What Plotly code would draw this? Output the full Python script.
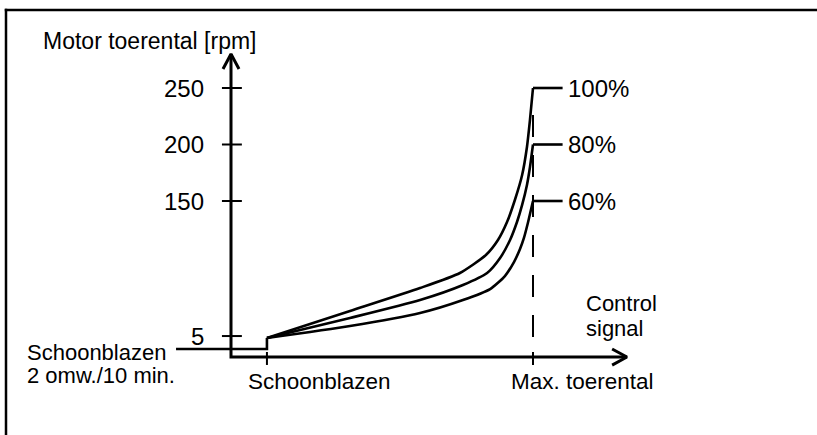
import plotly.graph_objects as go

# ---- data (schematic units: x = control signal %, y = motor speed rpm) ----
series_names = ["100%", "80%", "60%"]
end_rpm = [250, 200, 150]

curve_x_100 = [11.9, 39.4, 62.6, 75.8, 84.4, 88.4, 91.4, 94.0, 96.4, 98.0, 99.0, 100.0]
curve_y_100 = [28.8, 52.7, 73.0, 86.3, 102.2, 115.5, 131.4, 150.9, 173.0, 197.8, 221.7, 250.0]

curve_x_80 = [11.9, 39.4, 62.6, 76.8, 84.8, 89.1, 92.4, 94.7, 96.4, 98.0, 99.0, 100.0]
curve_y_80 = [28.8, 46.5, 62.4, 75.7, 86.3, 99.6, 115.5, 131.4, 146.5, 164.2, 180.1, 200.0]

curve_x_60 = [11.9, 39.4, 62.6, 76.8, 85.8, 90.7, 93.7, 95.7, 97.0, 98.3, 99.3, 100.0]
curve_y_60 = [28.8, 39.4, 50.9, 62.4, 72.1, 83.6, 96.0, 107.5, 117.3, 130.5, 142.0, 150.0]

purge_x = [-18.2, 11.9, 11.9]     # Schoonblazen level then step up
purge_y = [19.0, 19.0, 28.8]

ytick_vals = [30.5, 150, 200, 250]
ytick_text = ["5", "150", "200", "250"]
xtick_vals = [11.9, 100.0]
xtick_text = ["Schoonblazen", "Max. toerental"]

# ---- axis geometry (schematic) ----
X_AXIS_Y = 11.9
Y_AXIS_TOP = 280.1
X_AXIS_END = 131.1
FONT = "Liberation Sans, Arial, sans-serif"

fig = go.Figure()
line = dict(color="black", width=2.6)

def add_line(xs, ys, **kw):
    ln = dict(line)
    ln.update(kw)
    fig.add_trace(go.Scatter(x=xs, y=ys, mode="lines", line=ln,
                             hoverinfo="skip", showlegend=False))

# axes
add_line([0, 0, X_AXIS_END], [Y_AXIS_TOP, X_AXIS_Y, X_AXIS_Y], width=3)
# arrow heads
add_line([-2.65, 0, 2.65], [266.8, Y_AXIS_TOP, 266.8], width=3)
add_line([126.2, X_AXIS_END, 126.2], [X_AXIS_Y + 7.1, X_AXIS_Y, X_AXIS_Y - 7.1], width=3)

# y ticks
for v in ytick_vals:
    add_line([-3.0, 3.6], [v, v], width=2)
# x ticks
for v in xtick_vals:
    add_line([v, v], [16.4, 4.9], width=2)

# dashed max line
add_line([100, 100], [226.1, 29.6], width=2, dash="22px,18px")

# purge segment
add_line(purge_x, purge_y, width=2.6)

# curves
for xs, ys in [(curve_x_100, curve_y_100), (curve_x_80, curve_y_80), (curve_x_60, curve_y_60)]:
    fig.add_trace(go.Scatter(x=xs, y=ys, mode="lines",
                             line=dict(color="black", width=2.6, shape="spline", smoothing=0.6),
                             hoverinfo="skip", showlegend=False))

# end stubs
for r in end_rpm:
    add_line([100, 109.8], [r, r], width=2.6)

ann = []
def txt(x, y, s, size=22, xanchor="left"):
    ann.append(dict(x=x, y=y, text=s, showarrow=False, xanchor=xanchor, yanchor="middle",
                    borderpad=0,
                    font=dict(family=FONT, size=size, color="black")))

txt(-62.6, 291.3, "Motor toerental [rpm]", size=23)
for v, t in zip(ytick_vals, ytick_text):
    txt(-8.6, v, t, size=24, xanchor="right")
for r, name in zip(end_rpm, series_names):
    txt(111.3, r, name, size=24)
txt(5.3, -9.3, xtick_text[0], size=22.5)
txt(92.4, -9.3, xtick_text[1], size=22.5)
txt(117.2, 59.0, "Control")
txt(117.2, 37.6, "signal")
txt(-67.9, 16.0, "Schoonblazen")
txt(-67.9, -4.6, "2 omw./10 min.")

top = 1 - 10 / 435
left = 6 / 817
fig.update_layout(
    width=817, height=435,
    margin=dict(l=0, r=0, t=0, b=0),
    paper_bgcolor="white", plot_bgcolor="white",
    xaxis=dict(range=[-76.49, 194.04], visible=False, fixedrange=True),
    yaxis=dict(range=[-57.08, 327.88], visible=False, fixedrange=True),
    annotations=ann,
    shapes=[
        dict(type="line", xref="paper", yref="paper", x0=left - 0.0015, x1=1.02,
             y0=top, y1=top, line=dict(color="black", width=2.5)),
        dict(type="line", xref="paper", yref="paper", x0=left, x1=left,
             y0=-0.02, y1=top + 0.003, line=dict(color="black", width=2.5)),
    ],
    showlegend=False,
)

fig.write_html(
    "out.html", config={"displayModeBar": False},
    post_script=("document.body.style.margin='0';"
                 "document.body.style.overflow='hidden';"
                 "document.documentElement.style.overflow='hidden';"))
